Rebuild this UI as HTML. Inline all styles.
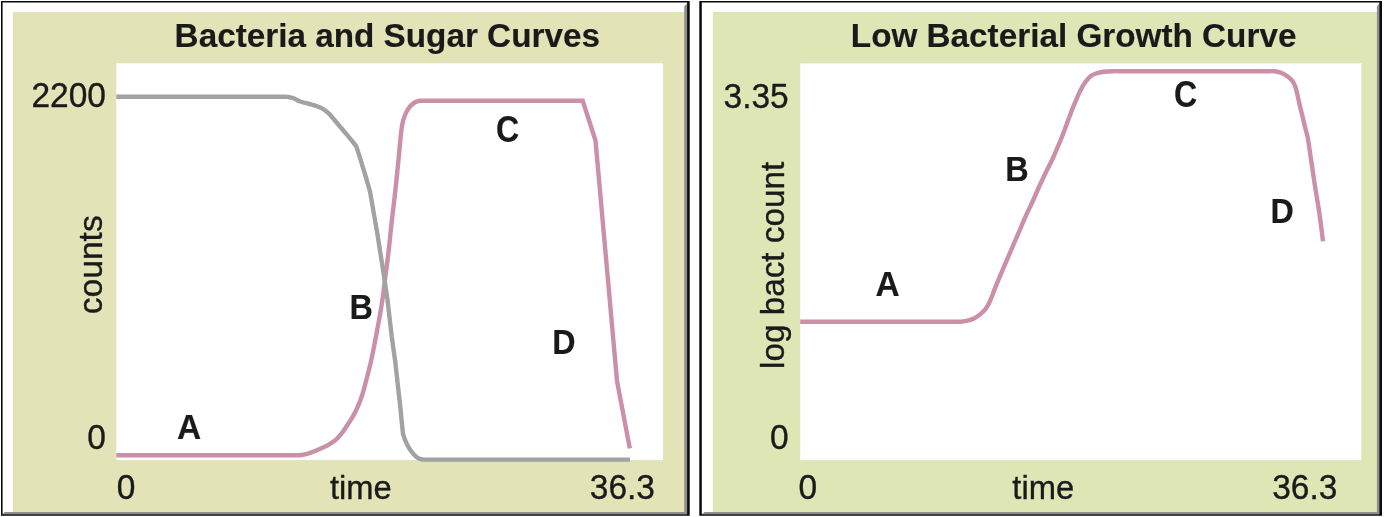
<!DOCTYPE html>
<html lang="en">
<head>
<meta charset="utf-8">
<title>Bacteria and Sugar Curves / Low Bacterial Growth Curve</title>
<style>
html,body{margin:0;padding:0;background:#fff;}
body{width:1384px;height:517px;overflow:hidden;}
svg{display:block;}
text{font-family:"Liberation Sans",Arial,Helvetica,sans-serif;font-size:34.7px;fill:#1a1a1a;stroke:#1a1a1a;stroke-width:.35px;}
.b{font-weight:bold;stroke-width:.15px;}
.l{font-size:32.9px;}
.v{font-size:33.4px;}
.c{font-size:36.3px;}
.t{font-size:33.5px;}
.pk{fill:none;stroke:#c990a8;stroke-width:4.4;stroke-linejoin:miter;stroke-linecap:butt;}
.gy{fill:none;stroke:#a0a3a2;stroke-width:4.4;stroke-linejoin:miter;stroke-linecap:butt;}
</style>
</head>
<body>
<svg width="1384" height="517" viewBox="0 0 1384 517">
<rect x="0" y="0" width="1384" height="517" fill="#fff"/>

<!-- LEFT PANEL -->
<g id="left">
<rect x="12.9" y="11.9" width="671.8" height="500.6" fill="#e2e4b7"/>
<path d="M684.2,6.2 L687.2,3.6 L687.2,514.3 L2.8,514.3 L4.6,512 L684.2,512 Z" fill="#8e8e90"/>
<path fill-rule="evenodd" fill="#0a0a0a" d="M1,1 H689.7 V515.7 H1 Z M2.6,2.6 V514.2 H687.1 V2.6 Z"/>
<rect x="116.3" y="63.3" width="546.7" height="396.8" fill="#fff"/>
<path class="pk" d="M116.3,455.2 L296.0,455.2 C296.9,455.2 299.1,455.4 301.5,455.0 C303.9,454.6 307.2,453.9 310.3,452.9 C313.4,451.9 316.7,450.5 319.8,449.1 C322.9,447.7 326.5,446.0 329.2,444.4 C331.9,442.8 333.9,441.5 336.0,439.7 C338.1,437.9 339.7,435.8 341.6,433.4 C343.5,431.0 345.6,427.7 347.3,425.2 C349.0,422.7 350.2,421.0 351.8,418.2 C353.4,415.4 355.2,412.4 356.9,408.6 C358.6,404.9 360.4,400.5 362.0,395.7 C363.6,390.9 364.9,385.5 366.3,380.0 C367.8,374.5 369.2,369.3 370.7,362.6 C372.2,355.9 373.9,347.4 375.3,340.0 C376.8,332.6 378.2,324.7 379.4,318.0 C380.6,311.3 381.4,306.8 382.4,300.0 C383.4,293.2 384.3,284.8 385.3,277.0 C386.3,269.2 387.3,262.2 388.4,253.0 C389.5,243.8 390.5,232.5 391.7,222.0 C392.9,211.5 394.3,199.8 395.4,190.0 C396.5,180.2 397.4,170.6 398.2,163.0 C398.9,155.4 399.4,149.4 399.9,144.5 C400.4,139.6 400.6,137.1 401.0,133.7 C401.4,130.3 401.7,127.0 402.3,124.2 C402.9,121.4 403.6,119.0 404.4,116.8 C405.2,114.5 406.1,112.5 407.1,110.7 C408.1,108.9 409.2,107.3 410.4,106.0 C411.6,104.7 413.4,103.4 414.5,102.6 C415.6,101.8 416.3,101.7 417.3,101.4 C418.3,101.1 419.1,100.9 420.5,100.8 C421.9,100.8 424.1,100.8 426.0,100.8 C427.9,100.8 431.0,100.8 432.0,100.8 L582.7,100.8 L595.5,140.5 L617.0,380.9 L629.8,448.3"/>
<path class="gy" d="M116.3,96.8 L283.0,96.8 C283.7,96.8 285.6,96.7 287.4,96.9 C289.1,97.2 291.4,97.5 293.5,98.3 C295.6,99.1 297.8,100.6 300.3,101.5 C302.8,102.4 305.7,103.0 308.4,103.7 C311.1,104.5 314.0,105.1 316.5,106.0 C319.0,106.9 321.3,107.9 323.3,109.1 C325.3,110.3 326.9,111.7 328.7,113.4 C330.5,115.1 332.1,117.1 334.1,119.5 C336.1,121.9 338.6,124.9 340.9,127.6 C343.2,130.3 345.5,133.1 347.7,135.7 C349.9,138.3 352.4,141.4 353.8,143.2 C355.2,145.0 355.9,145.9 356.3,146.4 L360.3,158.9 L365.7,176.5 L370.0,191.4 L373.2,210.0 L377.1,232.1 L383.3,271.5 L387.4,299.0 L391.8,337.0 L395.3,362.1 L398.0,386.4 L400.1,405.0 L401.3,417.6 L403.0,433.8 C403.4,434.9 404.2,438.1 405.3,440.6 C406.4,443.1 407.9,446.3 409.4,448.7 C410.9,451.1 412.6,453.2 414.1,454.8 C415.6,456.4 416.9,457.4 418.2,458.2 C419.5,459.0 420.9,459.3 422.2,459.5 C423.5,459.7 425.4,459.6 426.0,459.6 L630,459.6"/>
<text class="b t" id="t1" transform="translate(174.6,47) scale(.994,1)">Bacteria and Sugar Curves</text>
<text id="t2" transform="translate(31.5,107.45) scale(.965,1)">2200</text>
<text class="v" id="t3" transform="translate(101.9,314.3) rotate(-90) scale(1.007,1)">counts</text>
<text id="t4" transform="translate(87.3,449.0) scale(.965,1)">0</text>
<text id="t5" transform="translate(116.7,499.1) scale(.965,1)">0</text>
<text class="l" id="t6" transform="translate(330.0,499.4) scale(.995,1)">time</text>
<text id="t7" transform="translate(589.8,498.9) scale(.965,1)">36.3</text>
<text class="b" id="t8" transform="translate(177.1,439.3) scale(.965,1)">A</text>
<text class="b" id="t9" transform="translate(349.4,319.0) scale(.935,1)">B</text>
<text class="b c" id="t10" transform="translate(496.0,141.9) scale(.885,1)">C</text>
<text class="b" id="t11" transform="translate(552.3,354.3) scale(.93,1)">D</text>
</g>

<!-- RIGHT PANEL -->
<g id="right">
<rect x="712.8" y="11.9" width="664.6" height="500.6" fill="#dee6b6"/>
<path d="M1376.9,6.2 L1379.4,3.6 L1379.4,514.3 L702,514.3 L704.6,512 L1376.9,512 Z" fill="#8e8e90"/>
<path fill-rule="evenodd" fill="#0a0a0a" d="M699.3,1 H1382 V515.7 H699.3 Z M701.8,2.6 V514.2 H1379.3 V2.6 Z"/>
<rect x="800.2" y="63.4" width="561.2" height="396.8" fill="#fff"/>
<path class="pk" d="M800.2,321.8 L955.0,321.8 C956.0,321.8 958.7,321.9 960.8,321.7 C962.9,321.5 965.3,321.3 967.6,320.7 C969.9,320.1 972.3,319.3 974.4,318.2 C976.5,317.1 978.6,315.6 980.4,314.1 C982.2,312.6 983.8,311.1 985.2,309.4 C986.6,307.7 987.5,306.1 988.6,304.0 C989.7,301.9 990.7,299.6 991.9,296.5 C993.1,293.4 994.4,289.6 996.0,285.7 C997.6,281.8 999.6,277.2 1001.4,272.9 C1003.2,268.6 1004.8,264.8 1006.9,260.0 C1009.0,255.2 1011.5,249.3 1013.7,244.1 C1016.0,238.9 1018.3,233.5 1020.4,228.6 C1022.5,223.7 1024.4,219.0 1026.5,214.4 C1028.6,209.8 1030.6,205.9 1032.8,201.0 C1035.0,196.1 1037.7,189.9 1039.9,185.0 C1042.2,180.1 1044.2,175.8 1046.3,171.5 C1048.4,167.2 1050.5,163.4 1052.4,159.3 C1054.3,155.2 1056.0,151.0 1057.6,147.2 C1059.2,143.4 1060.4,140.8 1062.0,136.7 C1063.6,132.6 1065.5,127.4 1067.2,122.8 C1068.9,118.2 1071.0,112.6 1072.4,108.9 C1073.9,105.2 1074.6,103.7 1075.9,100.6 C1077.2,97.5 1078.9,93.5 1080.4,90.4 C1082.0,87.4 1083.5,84.7 1085.2,82.3 C1086.9,79.9 1088.8,77.7 1090.6,76.2 C1092.4,74.7 1093.8,74.2 1096.0,73.5 C1098.2,72.8 1101.2,72.2 1104.1,71.8 C1107.0,71.4 1110.9,71.3 1113.6,71.2 C1116.2,71.1 1118.9,71.2 1120.0,71.2 L1268.0,71.2 C1269.2,71.2 1272.6,71.0 1274.9,71.3 C1277.2,71.6 1279.6,72.2 1281.7,73.1 C1283.8,74.0 1285.9,75.2 1287.7,76.5 C1289.5,77.8 1291.2,79.3 1292.5,81.0 C1293.8,82.7 1294.4,84.3 1295.2,86.4 C1296.0,88.5 1296.4,90.5 1297.2,93.8 C1298.0,97.1 1299.0,102.2 1299.9,106.0 C1300.8,109.8 1301.8,113.3 1302.6,116.8 C1303.4,120.3 1304.2,123.5 1305.0,127.0 C1305.8,130.5 1306.8,132.9 1307.7,137.6 C1308.6,142.3 1309.5,149.1 1310.4,155.2 C1311.3,161.3 1312.4,168.6 1313.2,174.1 C1314.0,179.6 1314.3,181.7 1315.3,188.0 C1316.3,194.3 1317.9,203.2 1319.2,212.1 C1320.5,221.0 1322.4,236.3 1323.0,241.2"/>
<text class="b t" id="u1" transform="translate(850.8,47) scale(.994,1)">Low Bacterial Growth Curve</text>
<text id="u2" transform="translate(723.6,108.1) scale(.965,1)">3.35</text>
<text class="v" id="u3" transform="translate(784.4,369) rotate(-90) scale(.997,1)">log bact count</text>
<text id="u4" transform="translate(769.9,449.0) scale(.965,1)">0</text>
<text id="u5" transform="translate(798.4,498.9) scale(.965,1)">0</text>
<text class="l" id="u6" transform="translate(1012.3,499.4) scale(.995,1)">time</text>
<text id="u7" transform="translate(1272.2,498.9) scale(.965,1)">36.3</text>
<text class="b" id="u8" transform="translate(875.4,296.1) scale(.965,1)">A</text>
<text class="b" id="u9" transform="translate(1005.3,180.8) scale(.935,1)">B</text>
<text class="b c" id="u10" transform="translate(1173.9,107.4) scale(.885,1)">C</text>
<text class="b" id="u11" transform="translate(1270.4,223.1) scale(.93,1)">D</text>
</g>
</svg>
</body>
</html>
